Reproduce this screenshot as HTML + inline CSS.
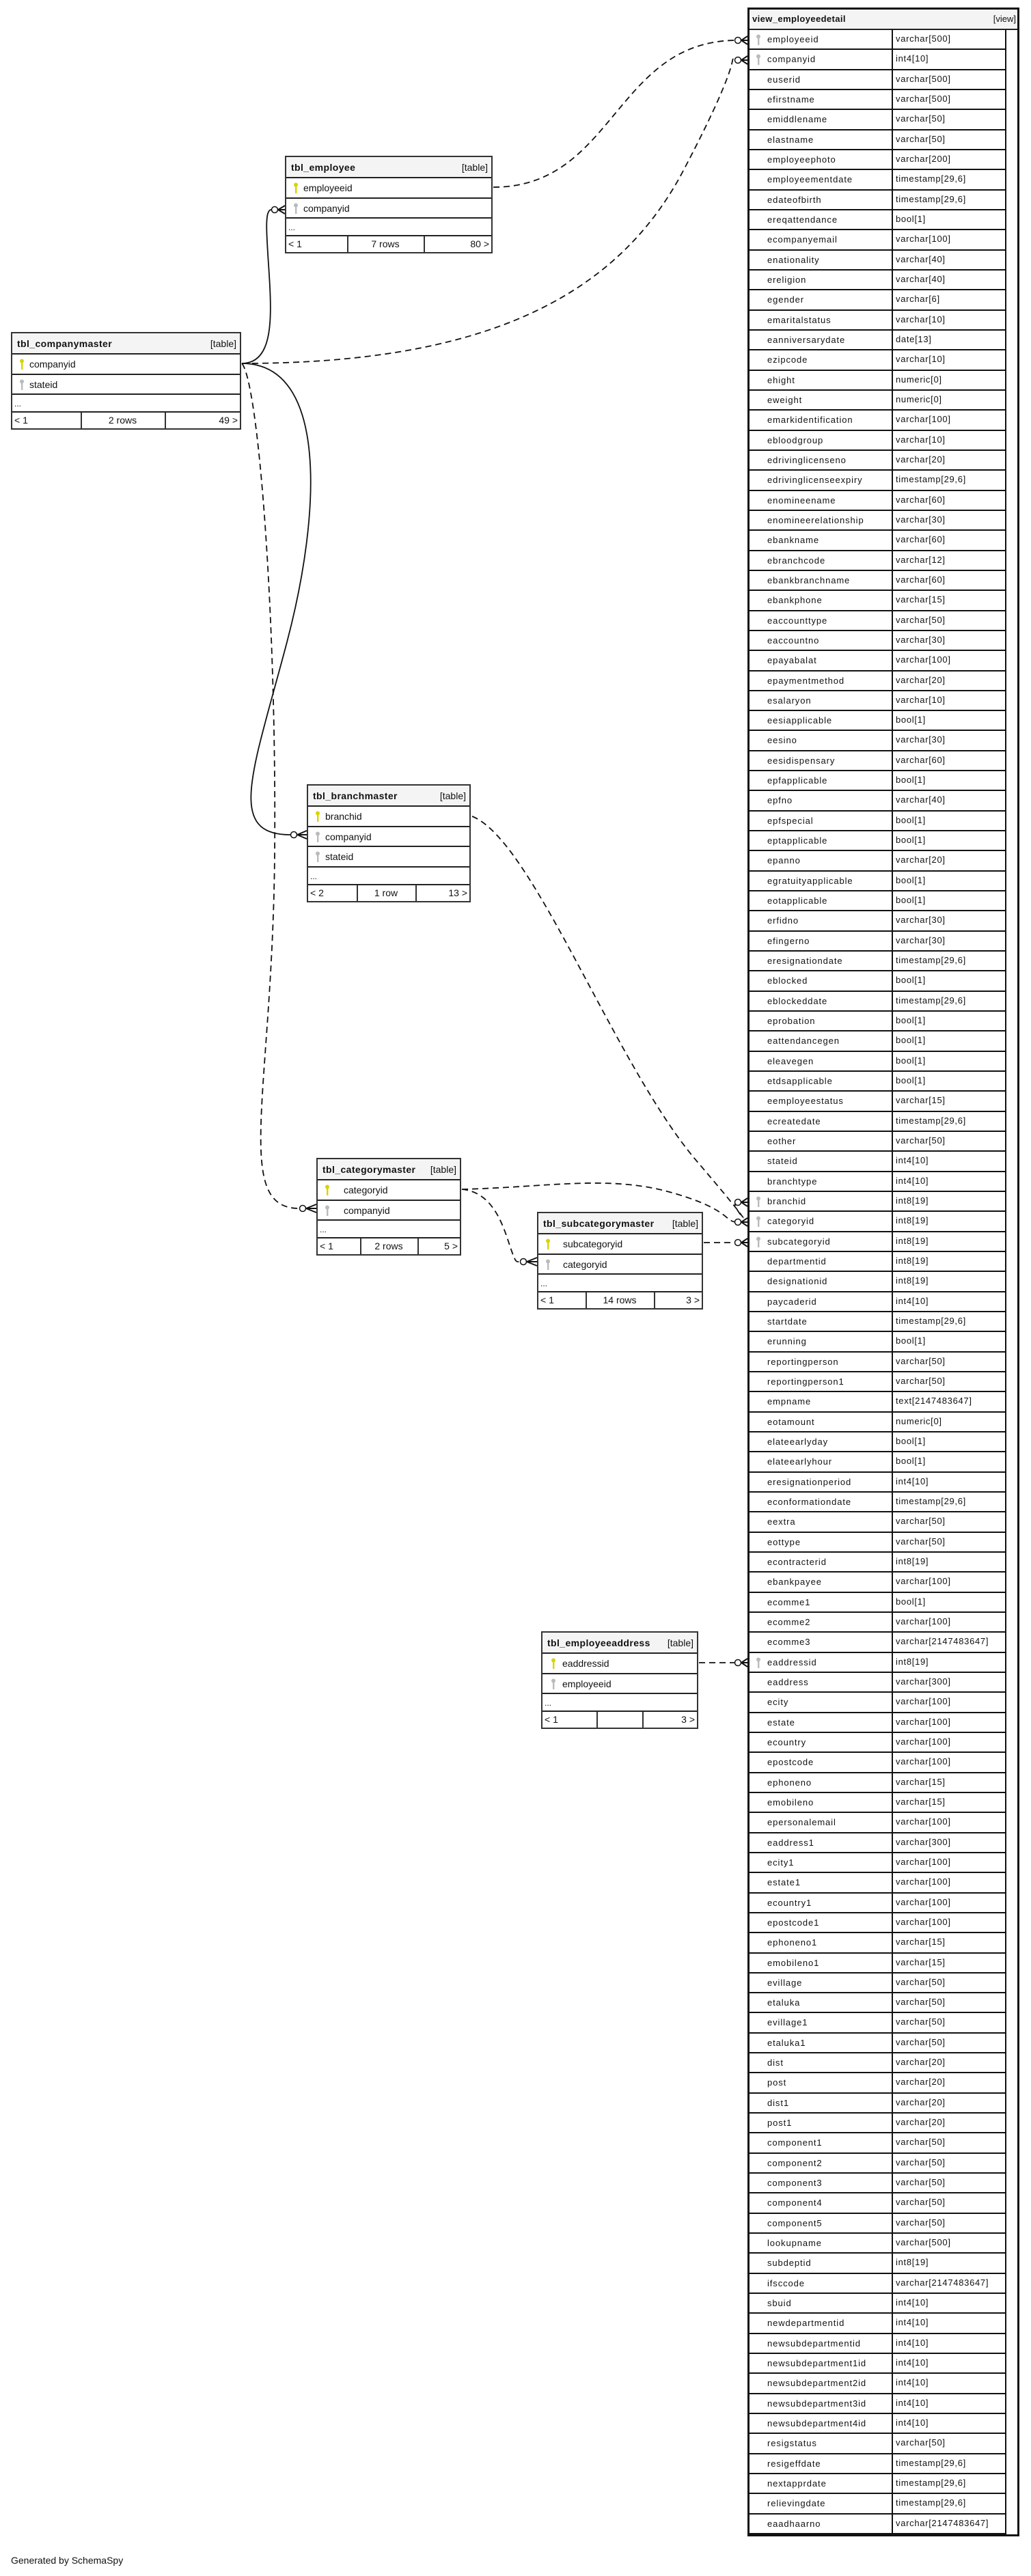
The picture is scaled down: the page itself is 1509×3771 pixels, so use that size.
<!DOCTYPE html>
<html><head><meta charset="utf-8"><style>
*{box-sizing:border-box;margin:0;padding:0}
body{width:1509px;height:3771px;background:#fff;position:relative;font-family:"Liberation Sans",Arial,sans-serif;color:#111;overflow:hidden}
.t{position:absolute;border:2px solid #333;background:#fff}
.h{height:31px;background:#f4f4f4;border-bottom:2px solid #222;position:relative;font-size:14px}
.h b{position:absolute;left:7px;top:7px;letter-spacing:.4px}
.h span{position:absolute;right:5px;top:7px}
.r{height:29.5px;border-bottom:2px solid #222;position:relative;font-size:14px}
.r span{position:absolute;top:6px}
.k{position:absolute;top:6px;width:6px;height:16px}
.d{height:26px;border-bottom:2px solid #222;font-size:12px;padding:6px 0 0 3px}
.f{height:23px;position:relative;font-size:14px}
.f span{position:absolute;top:3px}
.f i{position:absolute;top:0;bottom:0;border-left:2px solid #333}
#v{position:absolute;left:1094px;top:11px;width:398px;height:3702px;border:3px solid #111;background:#fff}
#v .h{height:30px;border-bottom:2px solid #222}
#v .h b{left:4px;top:6px;font-size:13px}
#v .h span{right:2px;top:6px;font-size:13px}
.vr{height:29.33px;width:376px;border-bottom:2px solid #111;border-right:2px solid #111;position:relative;font-size:13px;letter-spacing:.9px}
.vr span{position:absolute;left:26px;top:6px}
.vr em{font-style:normal;position:absolute;left:208px;top:5px;height:29.33px;border-left:2px solid #111;padding-left:4px;top:-1px;padding-top:6px;letter-spacing:.7px}
.vr .k{left:10px;top:6px}
svg.c{position:absolute;left:0;top:0}
</style></head><body>

<svg width="0" height="0" style="position:absolute"><defs>
<g id="kp"><circle cx="3" cy="3.5" r="3" fill="#d8d400"/><rect x="2" y="5" width="2.4" height="11" fill="#d8d400"/></g>
<g id="kf"><circle cx="3" cy="3.5" r="3" fill="#bbb"/><rect x="2" y="5" width="2.4" height="11" fill="#bbb"/></g>
</defs></svg>

<!-- tbl_employee -->
<div class="t" style="left:417px;top:228px;width:304px">
<div class="h"><b>tbl_employee</b><span>[table]</span></div>
<div class="r"><svg class="k" style="left:11px"><use href="#kp"/></svg><span style="left:25px">employeeid</span></div>
<div class="r"><svg class="k" style="left:11px"><use href="#kf"/></svg><span style="left:25px">companyid</span></div>
<div class="d">...</div>
<div class="f"><span style="left:3px">&lt; 1</span><i style="left:89px"></i><span style="left:89px;width:112px;text-align:center">7 rows</span><i style="left:201px"></i><span style="right:3px">80 &gt;</span></div>
</div>

<!-- tbl_companymaster -->
<div class="t" style="left:16px;top:486px;width:337px">
<div class="h"><b>tbl_companymaster</b><span>[table]</span></div>
<div class="r"><svg class="k" style="left:11px"><use href="#kp"/></svg><span style="left:25px">companyid</span></div>
<div class="r"><svg class="k" style="left:11px"><use href="#kf"/></svg><span style="left:25px">stateid</span></div>
<div class="d">...</div>
<div class="f"><span style="left:3px">&lt; 1</span><i style="left:100px"></i><span style="left:100px;width:123px;text-align:center">2 rows</span><i style="left:223px"></i><span style="right:3px">49 &gt;</span></div>
</div>

<!-- tbl_branchmaster -->
<div class="t" style="left:449px;top:1148px;width:240px">
<div class="h"><b>tbl_branchmaster</b><span>[table]</span></div>
<div class="r"><svg class="k" style="left:11px"><use href="#kp"/></svg><span style="left:25px">branchid</span></div>
<div class="r"><svg class="k" style="left:11px"><use href="#kf"/></svg><span style="left:25px">companyid</span></div>
<div class="r"><svg class="k" style="left:11px"><use href="#kf"/></svg><span style="left:25px">stateid</span></div>
<div class="d">...</div>
<div class="f"><span style="left:3px">&lt; 2</span><i style="left:71px"></i><span style="left:71px;width:86px;text-align:center">1 row</span><i style="left:157px"></i><span style="right:3px">13 &gt;</span></div>
</div>

<!-- tbl_categorymaster -->
<div class="t" style="left:463px;top:1695px;width:212px">
<div class="h"><b>tbl_categorymaster</b><span>[table]</span></div>
<div class="r"><svg class="k" style="left:11px"><use href="#kp"/></svg><span style="left:38px">categoryid</span></div>
<div class="r"><svg class="k" style="left:11px"><use href="#kf"/></svg><span style="left:38px">companyid</span></div>
<div class="d">...</div>
<div class="f"><span style="left:3px">&lt; 1</span><i style="left:62px"></i><span style="left:62px;width:84px;text-align:center">2 rows</span><i style="left:146px"></i><span style="right:3px">5 &gt;</span></div>
</div>

<!-- tbl_subcategorymaster -->
<div class="t" style="left:786px;top:1774px;width:243px">
<div class="h"><b>tbl_subcategorymaster</b><span>[table]</span></div>
<div class="r"><svg class="k" style="left:11px"><use href="#kp"/></svg><span style="left:36px">subcategoryid</span></div>
<div class="r"><svg class="k" style="left:11px"><use href="#kf"/></svg><span style="left:36px">categoryid</span></div>
<div class="d">...</div>
<div class="f"><span style="left:3px">&lt; 1</span><i style="left:69px"></i><span style="left:69px;width:100px;text-align:center">14 rows</span><i style="left:169px"></i><span style="right:3px">3 &gt;</span></div>
</div>

<!-- tbl_employeeaddress -->
<div class="t" style="left:792px;top:2388px;width:230px">
<div class="h"><b>tbl_employeeaddress</b><span>[table]</span></div>
<div class="r"><svg class="k" style="left:13px"><use href="#kp"/></svg><span style="left:29px">eaddressid</span></div>
<div class="r"><svg class="k" style="left:13px"><use href="#kf"/></svg><span style="left:29px">employeeid</span></div>
<div class="d">...</div>
<div class="f"><span style="left:3px">&lt; 1</span><i style="left:79px"></i><i style="left:146px"></i><span style="right:3px">3 &gt;</span></div>
</div>

<!-- view_employeedetail -->
<div id="v">
<div class="h"><b>view_employeedetail</b><span>[view]</span></div>
<div class="vr"><svg class="k"><use href="#kf"/></svg><span>employeeid</span><em>varchar[500]</em></div>
<div class="vr"><svg class="k"><use href="#kf"/></svg><span>companyid</span><em>int4[10]</em></div>
<div class="vr"><span>euserid</span><em>varchar[500]</em></div>
<div class="vr"><span>efirstname</span><em>varchar[500]</em></div>
<div class="vr"><span>emiddlename</span><em>varchar[50]</em></div>
<div class="vr"><span>elastname</span><em>varchar[50]</em></div>
<div class="vr"><span>employeephoto</span><em>varchar[200]</em></div>
<div class="vr"><span>employeementdate</span><em>timestamp[29,6]</em></div>
<div class="vr"><span>edateofbirth</span><em>timestamp[29,6]</em></div>
<div class="vr"><span>ereqattendance</span><em>bool[1]</em></div>
<div class="vr"><span>ecompanyemail</span><em>varchar[100]</em></div>
<div class="vr"><span>enationality</span><em>varchar[40]</em></div>
<div class="vr"><span>ereligion</span><em>varchar[40]</em></div>
<div class="vr"><span>egender</span><em>varchar[6]</em></div>
<div class="vr"><span>emaritalstatus</span><em>varchar[10]</em></div>
<div class="vr"><span>eanniversarydate</span><em>date[13]</em></div>
<div class="vr"><span>ezipcode</span><em>varchar[10]</em></div>
<div class="vr"><span>ehight</span><em>numeric[0]</em></div>
<div class="vr"><span>eweight</span><em>numeric[0]</em></div>
<div class="vr"><span>emarkidentification</span><em>varchar[100]</em></div>
<div class="vr"><span>ebloodgroup</span><em>varchar[10]</em></div>
<div class="vr"><span>edrivinglicenseno</span><em>varchar[20]</em></div>
<div class="vr"><span>edrivinglicenseexpiry</span><em>timestamp[29,6]</em></div>
<div class="vr"><span>enomineename</span><em>varchar[60]</em></div>
<div class="vr"><span>enomineerelationship</span><em>varchar[30]</em></div>
<div class="vr"><span>ebankname</span><em>varchar[60]</em></div>
<div class="vr"><span>ebranchcode</span><em>varchar[12]</em></div>
<div class="vr"><span>ebankbranchname</span><em>varchar[60]</em></div>
<div class="vr"><span>ebankphone</span><em>varchar[15]</em></div>
<div class="vr"><span>eaccounttype</span><em>varchar[50]</em></div>
<div class="vr"><span>eaccountno</span><em>varchar[30]</em></div>
<div class="vr"><span>epayabalat</span><em>varchar[100]</em></div>
<div class="vr"><span>epaymentmethod</span><em>varchar[20]</em></div>
<div class="vr"><span>esalaryon</span><em>varchar[10]</em></div>
<div class="vr"><span>eesiapplicable</span><em>bool[1]</em></div>
<div class="vr"><span>eesino</span><em>varchar[30]</em></div>
<div class="vr"><span>eesidispensary</span><em>varchar[60]</em></div>
<div class="vr"><span>epfapplicable</span><em>bool[1]</em></div>
<div class="vr"><span>epfno</span><em>varchar[40]</em></div>
<div class="vr"><span>epfspecial</span><em>bool[1]</em></div>
<div class="vr"><span>eptapplicable</span><em>bool[1]</em></div>
<div class="vr"><span>epanno</span><em>varchar[20]</em></div>
<div class="vr"><span>egratuityapplicable</span><em>bool[1]</em></div>
<div class="vr"><span>eotapplicable</span><em>bool[1]</em></div>
<div class="vr"><span>erfidno</span><em>varchar[30]</em></div>
<div class="vr"><span>efingerno</span><em>varchar[30]</em></div>
<div class="vr"><span>eresignationdate</span><em>timestamp[29,6]</em></div>
<div class="vr"><span>eblocked</span><em>bool[1]</em></div>
<div class="vr"><span>eblockeddate</span><em>timestamp[29,6]</em></div>
<div class="vr"><span>eprobation</span><em>bool[1]</em></div>
<div class="vr"><span>eattendancegen</span><em>bool[1]</em></div>
<div class="vr"><span>eleavegen</span><em>bool[1]</em></div>
<div class="vr"><span>etdsapplicable</span><em>bool[1]</em></div>
<div class="vr"><span>eemployeestatus</span><em>varchar[15]</em></div>
<div class="vr"><span>ecreatedate</span><em>timestamp[29,6]</em></div>
<div class="vr"><span>eother</span><em>varchar[50]</em></div>
<div class="vr"><span>stateid</span><em>int4[10]</em></div>
<div class="vr"><span>branchtype</span><em>int4[10]</em></div>
<div class="vr"><svg class="k"><use href="#kf"/></svg><span>branchid</span><em>int8[19]</em></div>
<div class="vr"><svg class="k"><use href="#kf"/></svg><span>categoryid</span><em>int8[19]</em></div>
<div class="vr"><svg class="k"><use href="#kf"/></svg><span>subcategoryid</span><em>int8[19]</em></div>
<div class="vr"><span>departmentid</span><em>int8[19]</em></div>
<div class="vr"><span>designationid</span><em>int8[19]</em></div>
<div class="vr"><span>paycaderid</span><em>int4[10]</em></div>
<div class="vr"><span>startdate</span><em>timestamp[29,6]</em></div>
<div class="vr"><span>erunning</span><em>bool[1]</em></div>
<div class="vr"><span>reportingperson</span><em>varchar[50]</em></div>
<div class="vr"><span>reportingperson1</span><em>varchar[50]</em></div>
<div class="vr"><span>empname</span><em>text[2147483647]</em></div>
<div class="vr"><span>eotamount</span><em>numeric[0]</em></div>
<div class="vr"><span>elateearlyday</span><em>bool[1]</em></div>
<div class="vr"><span>elateearlyhour</span><em>bool[1]</em></div>
<div class="vr"><span>eresignationperiod</span><em>int4[10]</em></div>
<div class="vr"><span>econformationdate</span><em>timestamp[29,6]</em></div>
<div class="vr"><span>eextra</span><em>varchar[50]</em></div>
<div class="vr"><span>eottype</span><em>varchar[50]</em></div>
<div class="vr"><span>econtracterid</span><em>int8[19]</em></div>
<div class="vr"><span>ebankpayee</span><em>varchar[100]</em></div>
<div class="vr"><span>ecomme1</span><em>bool[1]</em></div>
<div class="vr"><span>ecomme2</span><em>varchar[100]</em></div>
<div class="vr"><span>ecomme3</span><em>varchar[2147483647]</em></div>
<div class="vr"><svg class="k"><use href="#kf"/></svg><span>eaddressid</span><em>int8[19]</em></div>
<div class="vr"><span>eaddress</span><em>varchar[300]</em></div>
<div class="vr"><span>ecity</span><em>varchar[100]</em></div>
<div class="vr"><span>estate</span><em>varchar[100]</em></div>
<div class="vr"><span>ecountry</span><em>varchar[100]</em></div>
<div class="vr"><span>epostcode</span><em>varchar[100]</em></div>
<div class="vr"><span>ephoneno</span><em>varchar[15]</em></div>
<div class="vr"><span>emobileno</span><em>varchar[15]</em></div>
<div class="vr"><span>epersonalemail</span><em>varchar[100]</em></div>
<div class="vr"><span>eaddress1</span><em>varchar[300]</em></div>
<div class="vr"><span>ecity1</span><em>varchar[100]</em></div>
<div class="vr"><span>estate1</span><em>varchar[100]</em></div>
<div class="vr"><span>ecountry1</span><em>varchar[100]</em></div>
<div class="vr"><span>epostcode1</span><em>varchar[100]</em></div>
<div class="vr"><span>ephoneno1</span><em>varchar[15]</em></div>
<div class="vr"><span>emobileno1</span><em>varchar[15]</em></div>
<div class="vr"><span>evillage</span><em>varchar[50]</em></div>
<div class="vr"><span>etaluka</span><em>varchar[50]</em></div>
<div class="vr"><span>evillage1</span><em>varchar[50]</em></div>
<div class="vr"><span>etaluka1</span><em>varchar[50]</em></div>
<div class="vr"><span>dist</span><em>varchar[20]</em></div>
<div class="vr"><span>post</span><em>varchar[20]</em></div>
<div class="vr"><span>dist1</span><em>varchar[20]</em></div>
<div class="vr"><span>post1</span><em>varchar[20]</em></div>
<div class="vr"><span>component1</span><em>varchar[50]</em></div>
<div class="vr"><span>component2</span><em>varchar[50]</em></div>
<div class="vr"><span>component3</span><em>varchar[50]</em></div>
<div class="vr"><span>component4</span><em>varchar[50]</em></div>
<div class="vr"><span>component5</span><em>varchar[50]</em></div>
<div class="vr"><span>lookupname</span><em>varchar[500]</em></div>
<div class="vr"><span>subdeptid</span><em>int8[19]</em></div>
<div class="vr"><span>ifsccode</span><em>varchar[2147483647]</em></div>
<div class="vr"><span>sbuid</span><em>int4[10]</em></div>
<div class="vr"><span>newdepartmentid</span><em>int4[10]</em></div>
<div class="vr"><span>newsubdepartmentid</span><em>int4[10]</em></div>
<div class="vr"><span>newsubdepartment1id</span><em>int4[10]</em></div>
<div class="vr"><span>newsubdepartment2id</span><em>int4[10]</em></div>
<div class="vr"><span>newsubdepartment3id</span><em>int4[10]</em></div>
<div class="vr"><span>newsubdepartment4id</span><em>int4[10]</em></div>
<div class="vr"><span>resigstatus</span><em>varchar[50]</em></div>
<div class="vr"><span>resigeffdate</span><em>timestamp[29,6]</em></div>
<div class="vr"><span>nextapprdate</span><em>timestamp[29,6]</em></div>
<div class="vr"><span>relievingdate</span><em>timestamp[29,6]</em></div>
<div class="vr"><span>eaadhaarno</span><em>varchar[2147483647]</em></div>
</div>

<div style="position:absolute;left:16px;top:3740px;font-size:14px">Generated by SchemaSpy</div>

<svg class="c" width="1509" height="3771" fill="none" stroke="#111" stroke-width="1.8">
<g stroke-dasharray="9,6">
<path d="M722 274 C 900 274, 900 59, 1079 59"/>
<path d="M354 532 C 700 532, 900 440, 1000 250 S 1060 88, 1079 88"/>
<path d="M354 532 C 378 560, 405 900, 402 1250 S 340 1769, 438 1769"/>
<path d="M691 1195 C 780 1230, 900 1560, 1020 1700 S 1060 1760, 1079 1760"/>
<path d="M676 1741 C 800 1738, 890 1720, 980 1745 S 1060 1789, 1079 1789"/>
<path d="M676 1741 C 720 1745, 735 1790, 745 1820 S 755 1847, 761 1847"/>
<path d="M1030 1819 L 1079 1819"/>
<path d="M1023 2434 L 1079 2434"/>
</g>
<path d="M354 532 C 395 532, 398 480, 395 420 C 392 360, 385 307, 397 307"/>
<path d="M354 532 C 480 532, 470 750, 420 940 C 370 1130, 330 1222, 425 1222"/>
<g fill="#fff" stroke-width="1.5">
<circle cx="1080" cy="59" r="4.5"/><circle cx="1080" cy="88" r="4.5"/>
<circle cx="1080" cy="1760" r="4.5"/><circle cx="1080" cy="1789" r="4.5"/>
<circle cx="1080" cy="1819" r="4.5"/><circle cx="1080" cy="2434" r="4.5"/>
<circle cx="402" cy="307" r="4.5"/><circle cx="430" cy="1222" r="4.5"/>
<circle cx="443" cy="1769" r="4.5"/><circle cx="766" cy="1847" r="4.5"/>
</g>
<g stroke-width="2">
<path d="M1085 59 L1094 53 M1085 59 L1094 59 M1085 59 L1094 65"/>
<path d="M1085 88 L1094 82 M1085 88 L1094 88 M1085 88 L1094 94"/>
<path d="M1085 1760 L1094 1754 M1085 1760 L1094 1760 M1085 1760 L1094 1766"/>
<path d="M1085 1789 L1094 1783 M1085 1789 L1094 1789 M1085 1789 L1094 1795"/>
<path d="M1085 1819 L1094 1813 M1085 1819 L1094 1819 M1085 1819 L1094 1825"/>
<path d="M1085 2434 L1094 2428 M1085 2434 L1094 2434 M1085 2434 L1094 2440"/>
<path d="M407 307 L417 301 M407 307 L417 307 M407 307 L417 313"/>
<path d="M435 1222 L449 1216 M435 1222 L449 1222 M435 1222 L449 1228"/>
<path d="M448 1769 L463 1763 M448 1769 L463 1769 M448 1769 L463 1775"/>
<path d="M771 1847 L786 1841 M771 1847 L786 1847 M771 1847 L786 1853"/>
</g>
</svg>
</body></html>
